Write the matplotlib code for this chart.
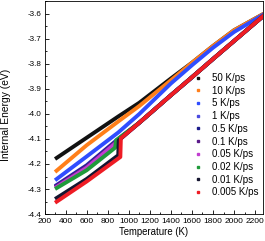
import matplotlib
matplotlib.use("Agg")
import matplotlib.pyplot as plt
from matplotlib.lines import Line2D
from matplotlib.ticker import MultipleLocator, FormatStrFormatter

# heating rates and their colours
labels = ["50 K/ps", "10 K/ps", "5 K/ps", "1 K/ps", "0.5 K/ps",
          "0.1 K/ps", "0.05 K/ps", "0.02 K/ps", "0.01 K/ps", "0.005 K/ps"]
colors = ["#111111", "#ff7f1a", "#2f4dff", "#4a4ae0", "#1c1c8c",
          "#5a1a8a", "#c23cd0", "#1f9a3a", "#151530", "#ee1c24"]

# temperature (K) / internal energy (eV)
t_50 = [300, 600, 900, 1100, 1400, 1600, 1800, 2000, 2300]
e_50 = [-4.18, -4.095, -4.01, -3.955, -3.858, -3.795, -3.728, -3.665, -3.595]

t_10 = [300, 600, 900, 1100, 1400, 1600, 1800, 2000, 2300]
e_10 = [-4.232, -4.125, -4.03, -3.968, -3.865, -3.795, -3.728, -3.665, -3.595]

t_5 = [300, 600, 900, 1100, 1400, 1600, 1800, 2000, 2300]
e_5 = [-4.265, -4.17, -4.074, -4.0, -3.878, -3.805, -3.735, -3.672, -3.597]

# shared liquid branch of the slow rates
t_liq = [900, 1100, 1400, 1600, 1800, 2000, 2300]
e_liq = [-4.105, -4.035, -3.925, -3.853, -3.78, -3.708, -3.60]

t_1 = [300, 600, 890] + t_liq[1:]
e_1 = [-4.288, -4.205, -4.103] + e_liq[1:]
t_05 = [300, 600, 890] + t_liq[1:]
e_05 = [-4.29, -4.207, -4.105] + e_liq[1:]
t_01 = [300, 600, 890] + t_liq[1:]
e_01 = [-4.292, -4.21, -4.107] + e_liq[1:]
t_005 = [300, 600, 880] + t_liq[1:]
e_005 = [-4.296, -4.215, -4.115] + e_liq[1:]
t_002 = [300, 600, 870, 880] + t_liq[1:]
e_002 = [-4.30, -4.225, -4.135, -4.105] + e_liq[1:]
t_001 = [300, 600, 900, 905] + t_liq[1:]
e_001 = [-4.34, -4.26, -4.165, -4.105] + e_liq[1:]
t_0005 = [300, 600, 920, 925] + t_liq[1:]
e_0005 = [-4.355, -4.27, -4.172, -4.097] + e_liq[1:]

series = [(t_50, e_50), (t_10, e_10), (t_5, e_5), (t_1, e_1), (t_05, e_05),
          (t_01, e_01), (t_005, e_005), (t_002, e_002), (t_001, e_001),
          (t_0005, e_0005)]

plt.rcParams['font.family'] = ['Liberation Sans', 'DejaVu Sans']

fig = plt.figure(figsize=(2.65, 2.41), dpi=100)
ax = fig.add_axes([0.168, 0.112, 0.823, 0.884])

for (t, e), c in zip(series, colors):
    ax.plot(t, e, color=c, lw=2.8, solid_capstyle="butt")

ax.set_xlim(200, 2271)
ax.set_ylim(-4.4, -3.548)
ax.xaxis.set_major_locator(MultipleLocator(200))
ax.xaxis.set_minor_locator(MultipleLocator(100))
ax.yaxis.set_major_locator(MultipleLocator(0.1))
ax.yaxis.set_minor_locator(MultipleLocator(0.05))
ax.yaxis.set_major_formatter(FormatStrFormatter("%.1f"))
ax.tick_params(which="both", direction="in", width=0.6, pad=2)
ax.tick_params(axis="x", labelsize=6.0, pad=3)
ax.tick_params(axis="y", labelsize=5.8)
ax.tick_params(which="major", length=2.8)
ax.tick_params(which="minor", length=1.5)
for sp in ax.spines.values():
    sp.set_linewidth(0.6)
ax.set_xlabel("Temperature (K)", fontsize=6.9, labelpad=1.0)
ax.set_ylabel("Internal Energy (eV)", fontsize=7.4)
ax.yaxis.set_label_coords(-0.155, 0.465)

handles = [Line2D([], [], marker="s", ls="none", color=c, markersize=2)
           for c in colors]
ax.legend(handles, labels, loc="center right", bbox_to_anchor=(1.0, 0.37),
          frameon=False, fontsize=7, labelspacing=0.28, handlelength=0.8,
          handletextpad=1.1, borderaxespad=0.0)

fig.savefig("out.png", dpi=100)
